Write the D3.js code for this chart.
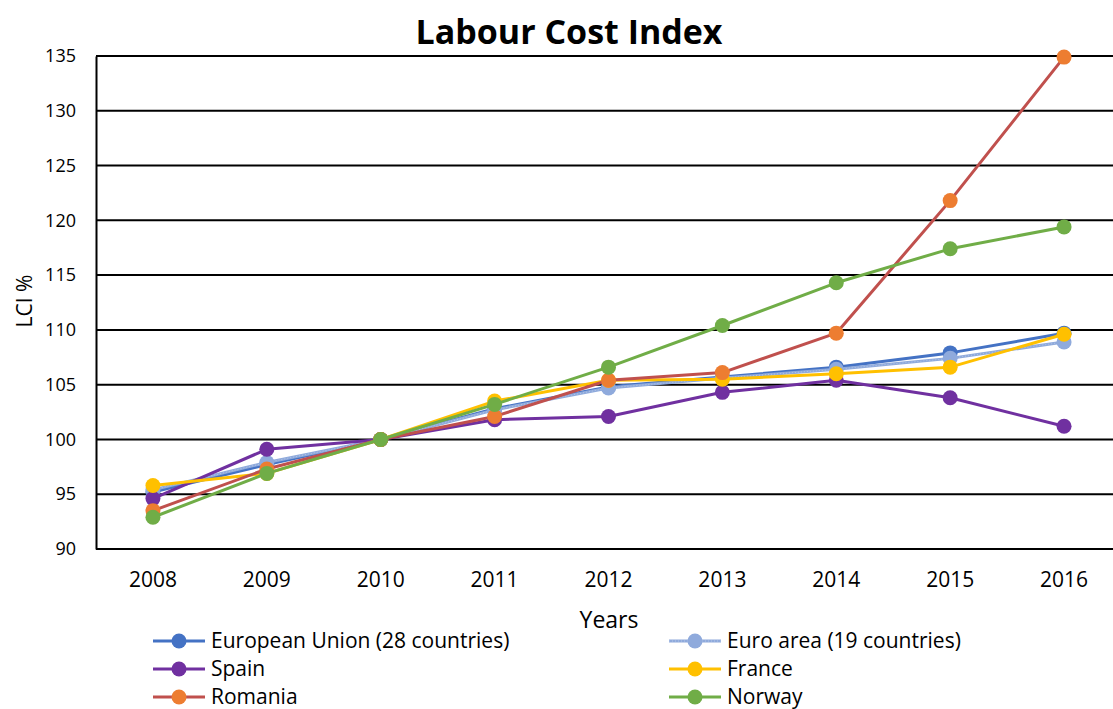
<!DOCTYPE html>
<html>
<head>
<meta charset="utf-8">
<script src="https://cdn.jsdelivr.net/npm/d3@7"></script>
<style>
  html, body { margin: 0; padding: 0; background: #fff; }
  svg { display: block; font-family: "Open Sans", sans-serif; }
</style>
</head>
<body>
<svg id="chart" width="1113" height="709"></svg>
<script>
// Labour Cost Index, 2010 = 100
const years = ["2008", "2009", "2010", "2011", "2012", "2013", "2014", "2015", "2016"];
const yTicks = [90, 95, 100, 105, 110, 115, 120, 125, 130, 135];

const euValues      = [95.2, 97.7, 100, 102.8, 104.8, 105.7, 106.6, 107.9, 109.7];
const euroValues    = [95.4, 97.9, 100, 102.7, 104.7, 105.6, 106.4, 107.4, 108.9];
const spainValues   = [94.6, 99.1, 100, 101.8, 102.1, 104.3, 105.4, 103.8, 101.2];
const franceValues  = [95.8, 96.9, 100, 103.5, 105.4, 105.5, 106.0, 106.6, 109.6];
const romaniaValues = [93.5, 97.3, 100, 102.1, 105.4, 106.1, 109.7, 121.8, 134.9];
const norwayValues  = [92.9, 96.9, 100, 103.2, 106.6, 110.4, 114.3, 117.4, 119.4];

const seriesNames  = ["European Union (28 countries)", "Euro area (19 countries)", "Spain", "France", "Romania", "Norway"];
const seriesValues = [euValues, euroValues, spainValues, franceValues, romaniaValues, norwayValues];
const lineColors   = ["#4472C4", "#8FAADC", "#7030A0", "#FFC000", "#C0504D", "#70AD47"];
const markerColors = ["#4472C4", "#8FAADC", "#7030A0", "#FFC000", "#ED7D31", "#70AD47"];

const svg = d3.select("#chart");
const plot = { left: 96, right: 1121, top: 56, bottom: 549 };

const x = d3.scaleBand().domain(years).range([plot.left, plot.right]);
const y = d3.scaleLinear().domain([90, 135]).range([plot.bottom, plot.top]);
const cx = d => x(d) + x.bandwidth() / 2;

// Title
svg.append("text")
  .attr("x", 569).attr("y", 44)
  .attr("text-anchor", "middle")
  .attr("font-size", 34).attr("font-weight", "bold")
  .text("Labour Cost Index");

// Horizontal gridlines
svg.append("g")
  .selectAll("line")
  .data(yTicks)
  .join("line")
  .attr("x1", plot.left).attr("x2", plot.right)
  .attr("y1", d => y(d)).attr("y2", d => y(d))
  .attr("stroke", "#000").attr("stroke-width", 2);

// Y axis
const yAxis = svg.append("g")
  .attr("transform", `translate(${plot.left},0)`)
  .call(d3.axisLeft(y).tickValues(yTicks).tickSize(0).tickPadding(20));
yAxis.select(".domain").attr("stroke", "#000").attr("stroke-width", 2);
yAxis.selectAll("text").attr("font-size", 18).attr("font-family", "'Open Sans', sans-serif").attr("fill", "#000");

// X axis
const xAxis = svg.append("g")
  .attr("transform", `translate(0,${plot.bottom})`)
  .call(d3.axisBottom(x).tickSize(0).tickPadding(23));
xAxis.select(".domain").remove();
xAxis.selectAll("text").attr("font-size", 21).attr("font-family", "'Open Sans', sans-serif").attr("fill", "#000");

// Axis titles
svg.append("text")
  .attr("x", 609).attr("y", 628)
  .attr("text-anchor", "middle").attr("font-size", 23)
  .text("Years");
svg.append("text")
  .attr("transform", "translate(32,301) rotate(-90)")
  .attr("text-anchor", "middle").attr("font-size", 21)
  .text("LCI %");

// Series: line then markers, drawn in order
const line = d3.line().x((d, i) => cx(years[i])).y(d => y(d));
seriesValues.forEach((vals, s) => {
  const g = svg.append("g");
  g.append("path")
    .attr("d", line(vals))
    .attr("fill", "none")
    .attr("stroke", lineColors[s])
    .attr("stroke-width", 3)
    .attr("stroke-linejoin", "round");
  if (s === 1) {
    g.append("path")
      .attr("d", line(vals))
      .attr("fill", "none")
      .attr("stroke", "#B4C7E7")
      .attr("stroke-width", 1)
      .attr("stroke-dasharray", "1,2");
  }
  g.selectAll("circle")
    .data(vals)
    .join("circle")
    .attr("cx", (d, i) => cx(years[i]))
    .attr("cy", d => y(d))
    .attr("r", 7.5)
    .attr("fill", markerColors[s]);
});

// Legend: two columns, three rows
const legend = svg.append("g");
seriesNames.forEach((name, s) => {
  const col = s % 2, row = Math.floor(s / 2);
  const lx = col === 0 ? 153 : 669;
  const ly = 641 + row * 28;
  const item = legend.append("g").attr("transform", `translate(${lx},${ly})`);
  item.append("line")
    .attr("x1", 0).attr("x2", 52).attr("y1", 0).attr("y2", 0)
    .attr("stroke", lineColors[s]).attr("stroke-width", 3);
  if (s === 1) {
    item.append("line")
      .attr("x1", 0).attr("x2", 52).attr("y1", 0).attr("y2", 0)
      .attr("stroke", "#B4C7E7").attr("stroke-width", 1).attr("stroke-dasharray", "1,2");
  }
  item.append("circle").attr("cx", 26).attr("cy", 0).attr("r", 7.5).attr("fill", markerColors[s]);
  item.append("text")
    .attr("x", 58).attr("y", 0).attr("dy", "0.35em")
    .attr("font-size", 21)
    .text(name);
});
</script>
</body>
</html>
